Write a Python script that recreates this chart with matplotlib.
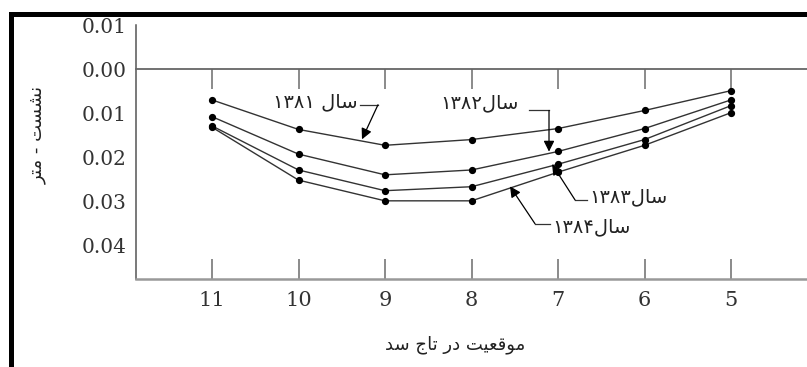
import matplotlib
matplotlib.use('Agg')
import matplotlib.pyplot as plt
from matplotlib.patches import Rectangle
import numpy as np

# settlement (m) at each station along the dam crest, per year
stations = [11, 10, 9, 8, 7, 6, 5]
settle_1381 = [0.0070, 0.0137, 0.0173, 0.0160, 0.0135, 0.0094, 0.0049]
settle_1382 = [0.0108, 0.0193, 0.0240, 0.0229, 0.0187, 0.0135, 0.0070]
settle_1383 = [0.0129, 0.0229, 0.0276, 0.0267, 0.0216, 0.0160, 0.0083]
settle_1384 = [0.0132, 0.0252, 0.0299, 0.0299, 0.0234, 0.0173, 0.0099]
y_ticks = [-0.01, 0.00, 0.01, 0.02, 0.03, 0.04]

# Persian text written in shaped presentation forms, visual (left-to-right) order,
# since matplotlib does no Arabic shaping / bidi
SAL = '\uFEDD\uFE8E\uFEB3'                      # سال
years = ['۱۳۸۱', '۱۳۸۲', '۱۳۸۳', '۱۳۸۴']
year_labels = [years[0] + ' ' + SAL, years[1] + SAL, years[2] + SAL, years[3] + SAL]
xlabel = '\uFEAA\uFEB3 \uFE9D\uFE8E\uFE97 \uFEAD\uFEA9 \uFE96\uFEF4\uFECC\uFED7\uFEEE\uFEE3'   # موقعیت در تاج سد
ylabel = '\uFEAE\uFE98\uFEE3 - \uFE96\uFEB4\uFEB8\uFEE7'                                    # نشست - متر

W, H = 807, 367
fig = plt.figure(figsize=(W / 100, H / 100), dpi=100)
ax = fig.add_axes([136 / W, 88 / H, 671 / W, 254 / H])

series = [settle_1381, settle_1382, settle_1383, settle_1384]
for s in series:
    ax.plot(stations, s, color='#333333', lw=1.0, marker='o', ms=4.2,
            mfc='black', mec='black')

ax.set_xlim(11 + 76 / 86.5, 11 - 595 / 86.5)
ax.set_ylim(0.04764, -0.00944)

ax.spines['right'].set_visible(False)
ax.spines['left'].set_color('#555555')
ax.spines['left'].set_linewidth(1.1)
ax.spines['bottom'].set_color('#999999')
ax.spines['bottom'].set_linewidth(1.8)
ax.spines['top'].set_position(('data', 0))
ax.spines['top'].set_color('#666666')
ax.spines['top'].set_linewidth(1.3)

ax.tick_params(axis='x', top=True, labeltop=False, direction='in', length=14.5,
               width=1.2, color='#777777', pad=9, labelsize=15,
               labelfontfamily='DejaVu Serif', labelcolor='#333333')
ax.tick_params(axis='y', length=0, pad=6.5, labelsize=14.5,
               labelfontfamily='DejaVu Serif', labelcolor='#333333')

ax.set_xticks(stations)
ax.set_xticklabels([str(s) for s in stations])
ax.set_yticks(y_ticks)
ax.set_yticklabels([f'{abs(v):.2f}' for v in y_ticks])

# year labels with leader arrows
def on_line(s, x):
    return np.interp(x, stations[::-1], s[::-1])

notes = [
    # text x, text y, ha, leader start x, elbow x, elbow y, tip x
    (9.312, 0.0074, 'right', 9.29, 9.081, 0.0081, 9.266),
    (7.451, 0.0076, 'right', 7.335, 7.104, 0.0094, 7.104),
    (6.642, 0.0291, 'left', 6.665, 6.803, 0.0297, 7.069),
    (7.069, 0.0357, 'left', 7.092, 7.266, 0.0351, 7.555),
]
for s, lab, (tx, ty, ha, lx, ex, ey, px) in zip(series, year_labels, notes):
    ax.text(tx, ty, lab, ha=ha, va='center', fontsize=14, color='#222222',
            family='DejaVu Sans')
    ax.plot([lx, ex], [ey, ey], color='#333333', lw=0.9)
    ax.annotate('', xy=(px, on_line(s, px) - 0.0004), xytext=(ex, ey),
                arrowprops=dict(arrowstyle='-|>', color='black', lw=0.9,
                                mutation_scale=16, shrinkA=0, shrinkB=0))

fig.text(455 / W, 1 - 345 / H, xlabel, ha='center', va='center', fontsize=13,
         color='#222222', family='DejaVu Sans')
fig.text(38 / W, 1 - 135 / H, ylabel, ha='center', va='center', rotation=90,
         fontsize=13, color='#222222', family='DejaVu Sans')

# thick black frame (top and left edges visible)
fig.patches.append(Rectangle((10.5 / W, -0.5), 2, 1 - 14 / H + 0.5, fill=False,
                             ec='black', lw=3.6, transform=fig.transFigure,
                             clip_on=False))

fig.savefig('out.png', dpi=100)
